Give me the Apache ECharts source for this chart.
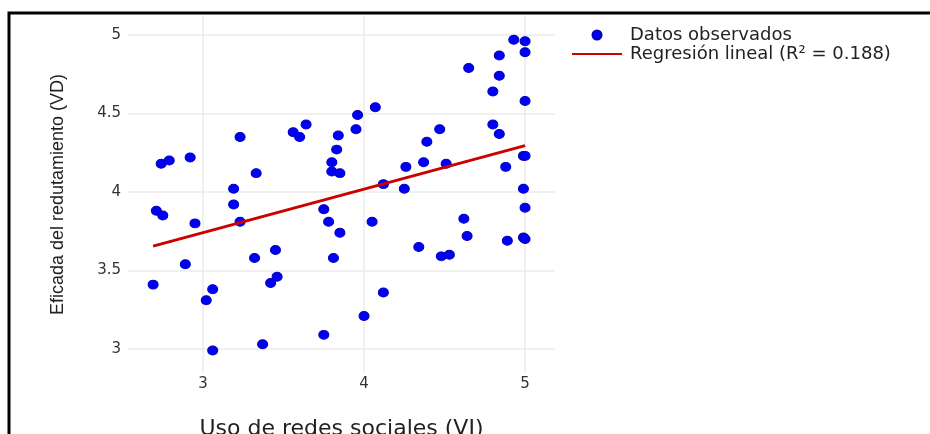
<!DOCTYPE html>
<html>
<head>
<meta charset="utf-8">
<script src="https://cdn.jsdelivr.net/npm/echarts@6/dist/echarts.min.js"></script>
<style>
  html, body { margin: 0; padding: 0; background: #ffffff; }
  #chart { width: 930px; height: 434px; }
</style>
</head>
<body>
<div id="chart"></div>
<script>
// Uso de redes sociales (VI) per respondent
const usoRedes = [
  2.74, 2.79, 2.92, 3.23, 3.33, 3.19, 3.19, 2.71, 2.75, 3.56,
  3.60, 3.64, 3.84, 3.83, 3.80, 3.80, 3.85, 3.75, 3.95, 3.96,
  4.07, 4.12, 4.93, 5.00, 5.00, 4.84, 4.65, 4.84, 4.80, 5.00,
  4.80, 4.84, 4.47, 4.39, 4.37, 4.26, 4.51, 4.25, 4.88, 4.99,
  5.00, 4.99, 5.00, 4.62, 4.64, 4.34, 4.48, 4.53, 4.89, 4.99,
  5.00, 4.12, 2.95, 3.23, 3.78, 3.85, 4.05, 3.45, 3.32, 3.81,
  2.89, 2.69, 3.46, 3.42, 3.06, 3.02, 4.00, 3.75, 3.37, 3.06
];
// Eficacia del rendimiento (VD) per respondent
const eficacia = [
  4.18, 4.20, 4.22, 4.35, 4.12, 4.02, 3.92, 3.88, 3.85, 4.38,
  4.35, 4.43, 4.36, 4.27, 4.19, 4.13, 4.12, 3.89, 4.40, 4.49,
  4.54, 4.05, 4.97, 4.96, 4.89, 4.87, 4.79, 4.74, 4.64, 4.58,
  4.43, 4.37, 4.40, 4.32, 4.19, 4.16, 4.18, 4.02, 4.16, 4.23,
  4.23, 4.02, 3.90, 3.83, 3.72, 3.65, 3.59, 3.60, 3.69, 3.71,
  3.70, 3.36, 3.80, 3.81, 3.81, 3.74, 3.81, 3.63, 3.58, 3.58,
  3.54, 3.41, 3.46, 3.42, 3.38, 3.31, 3.21, 3.09, 3.03, 2.99
];
// Fitted regression line, evaluated at the ends of the observed range
const lineaX = [2.69, 5.0];
const lineaY = [3.655, 4.295];
const rCuadrado = '0.188';

// Tick labels
const ticksX = [3, 4, 5];
const ticksY = [3, 3.5, 4, 4.5, 5];

const nombrePuntos = 'Datos observados';
const nombreLinea = 'Regresión lineal (R² = ' + rCuadrado + ')';

const puntos = usoRedes.map((x, i) => [x, eficacia[i]]);
const linea = lineaX.map((x, i) => [x, lineaY[i]]);

const chart = echarts.init(document.getElementById('chart'), null, { renderer: 'canvas' });

const gridColor = '#ebebeb';
const tickFont = { fontFamily: 'DejaVu Sans', fontSize: 15, color: '#333333' };

chart.setOption({
  backgroundColor: '#ffffff',
  animation: false,
  grid: { left: 128, right: 375, top: 16, bottom: 61, containLabel: false, outerBoundsMode: 'none' },
  graphic: [{
    type: 'polyline',
    shape: { points: [[9, 434], [9, 13], [930, 13]] },
    style: { stroke: '#000000', lineWidth: 3, fill: null },
    silent: true
  }],
  legend: {
    orient: 'vertical',
    left: 571,
    top: 26,
    padding: 0,
    itemWidth: 50,
    itemHeight: 9,
    itemGap: 1,
    textStyle: { fontFamily: 'DejaVu Sans', fontSize: 18, color: '#222222', padding: [0, 0, 0, 3] },
    data: [
      { name: nombrePuntos, icon: 'circle' },
      { name: nombreLinea, itemStyle: { opacity: 0 } }
    ]
  },
  xAxis: {
    type: 'value',
    min: 2.534,
    max: 5.186,
    name: 'Uso de redes sociales (VI)',
    nameLocation: 'middle',
    nameGap: 45,
    nameTextStyle: { fontFamily: 'DejaVu Sans', fontSize: 22, color: '#222222' },
    axisLine: { show: false },
    axisTick: { show: false, customValues: ticksX },
    axisLabel: Object.assign({ customValues: ticksX, margin: 4 }, tickFont),
    splitLine: { show: true, lineStyle: { color: gridColor, width: 1.5 } }
  },
  yAxis: {
    type: 'value',
    min: 2.847,
    max: 5.121,
    name: 'Eficada del redutamiento (VD)',
    nameLocation: 'middle',
    nameGap: 61,
    nameTextStyle: { fontFamily: 'Liberation Sans', fontSize: 18, color: '#222222' },
    axisLine: { show: false },
    axisTick: { show: false, customValues: ticksY },
    axisLabel: Object.assign({ customValues: ticksY, margin: 7 }, tickFont),
    splitLine: { show: true, lineStyle: { color: gridColor, width: 1.5 } }
  },
  series: [
    {
      name: nombrePuntos,
      type: 'scatter',
      data: puntos,
      symbol: 'circle',
      symbolSize: [10, 9],
      itemStyle: { color: '#0000f5', borderColor: '#0000c0', borderWidth: 1, opacity: 1 },
      z: 2
    },
    {
      name: nombreLinea,
      type: 'line',
      data: linea,
      symbol: 'none',
      lineStyle: { color: '#cc0000', width: 3 },
      itemStyle: { color: '#cc0000' },
      z: 3
    }
  ]
});
</script>
</body>
</html>
